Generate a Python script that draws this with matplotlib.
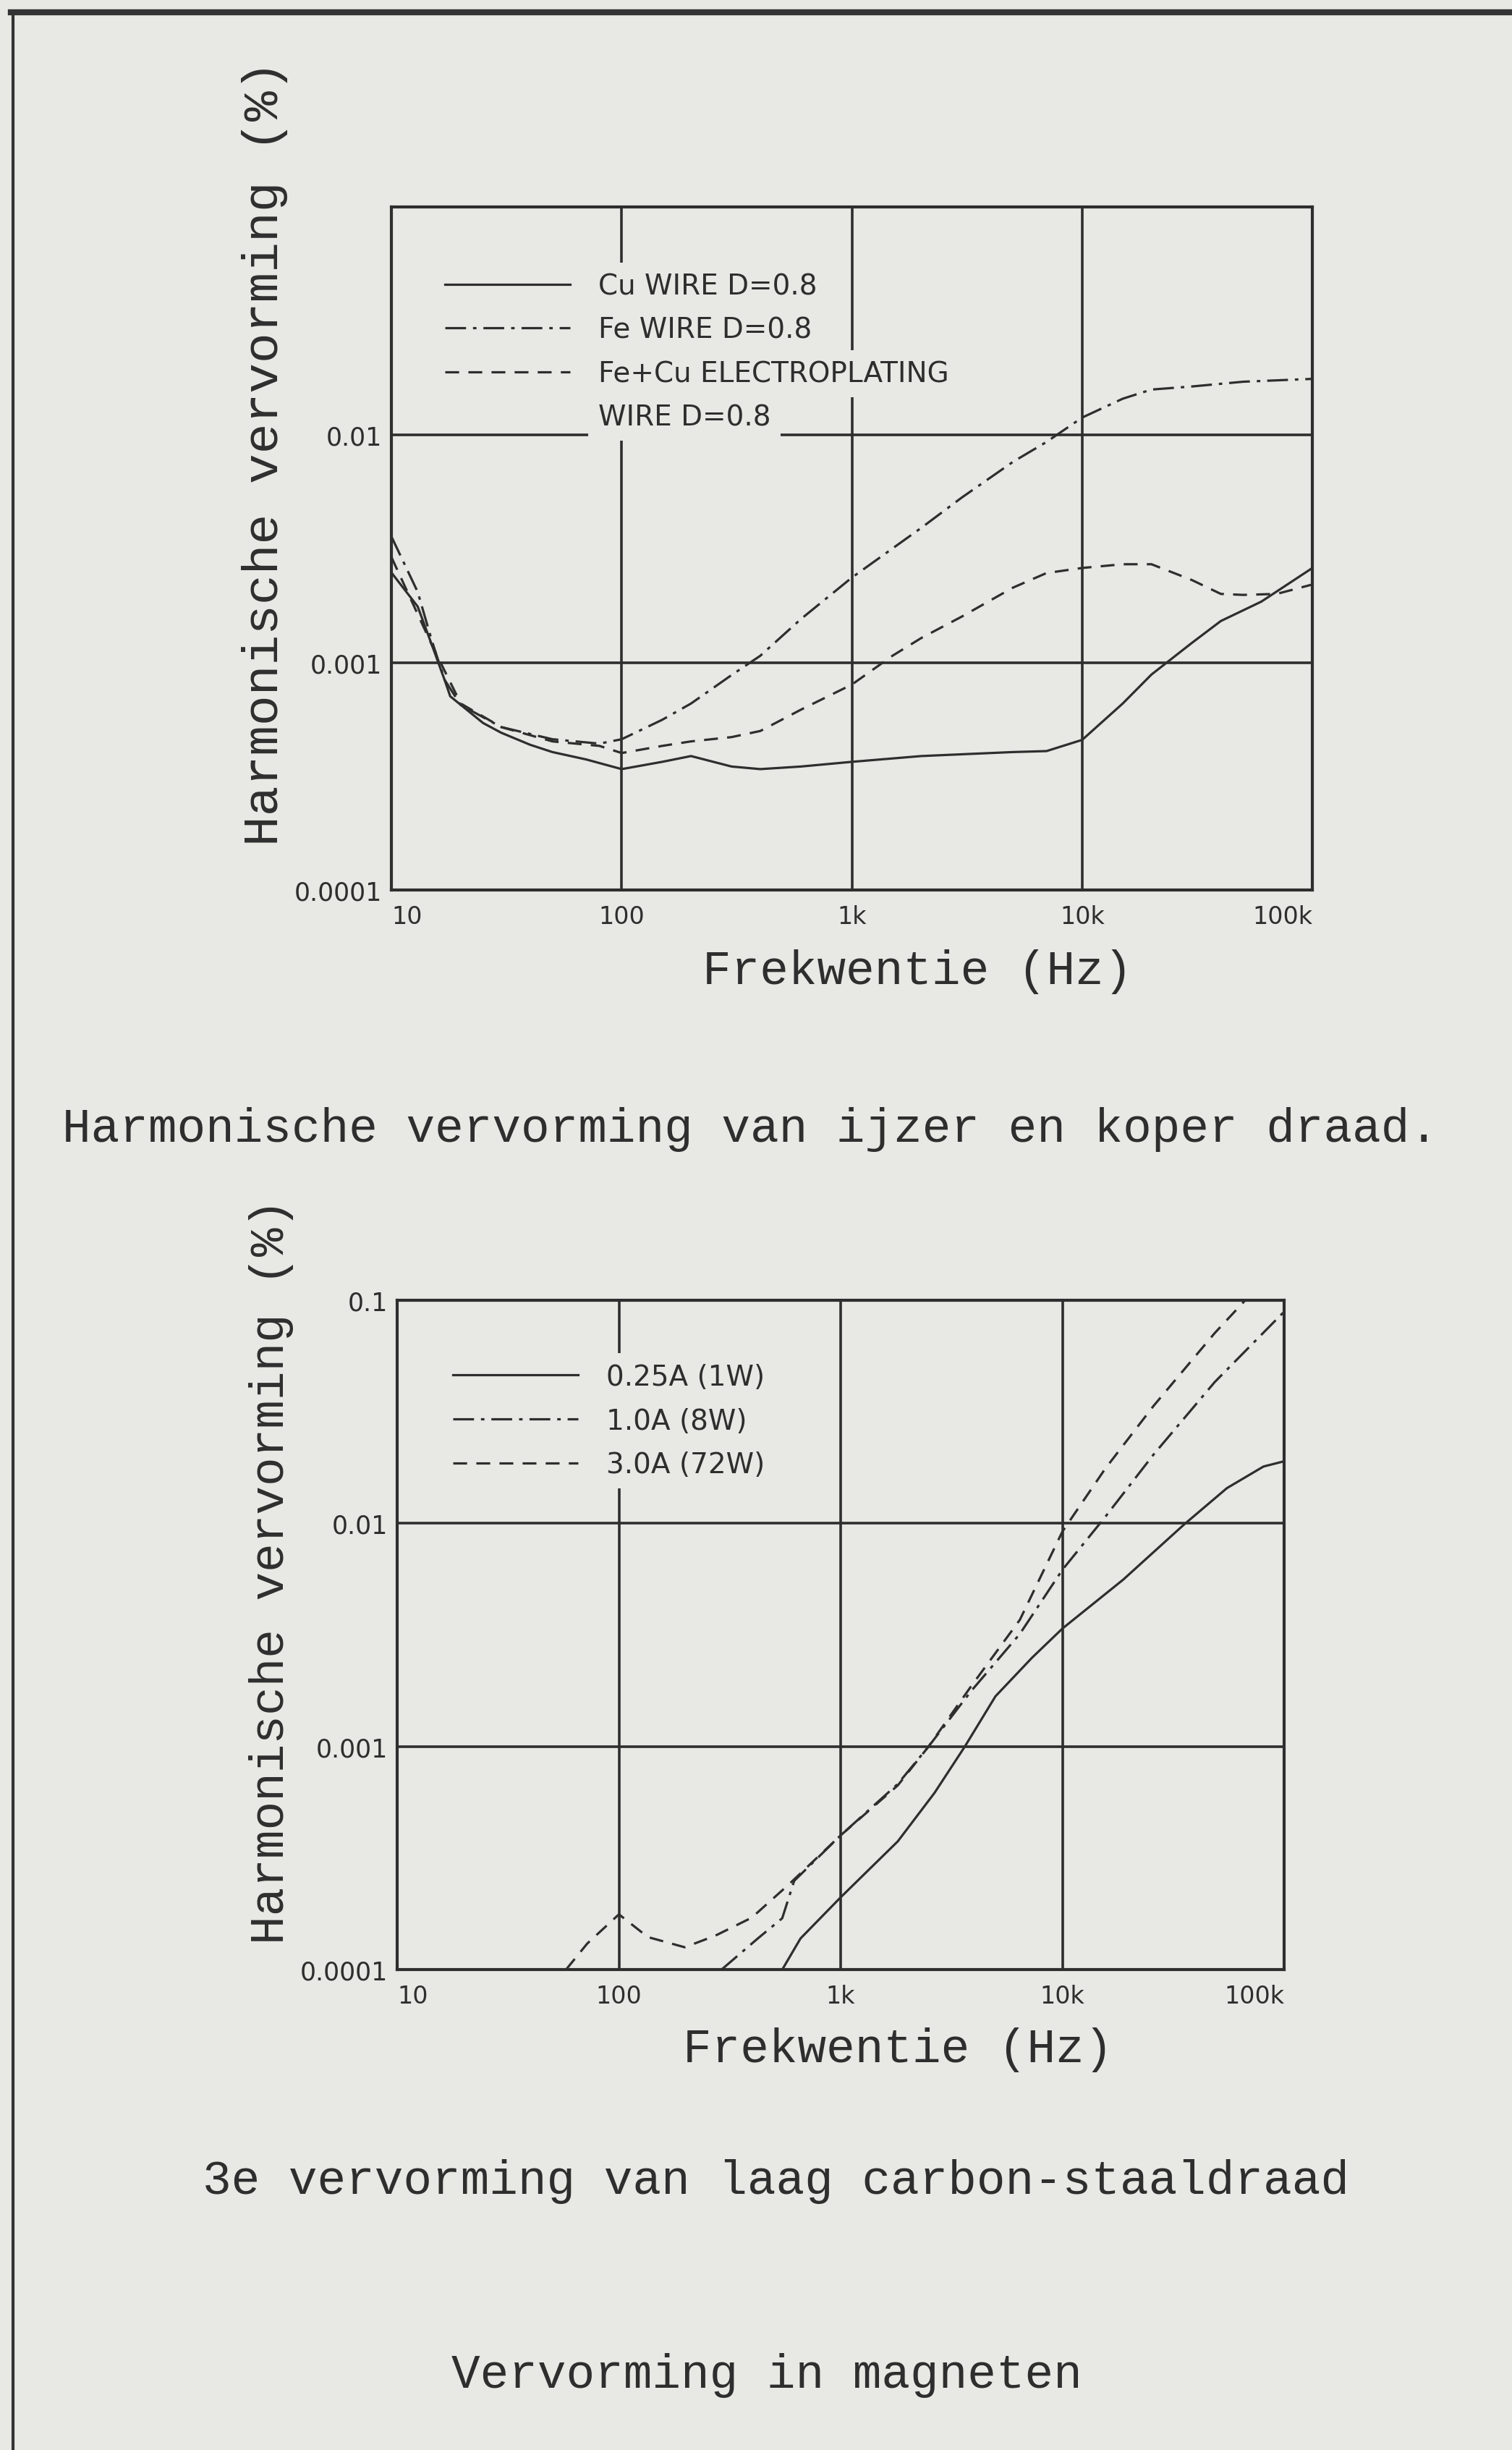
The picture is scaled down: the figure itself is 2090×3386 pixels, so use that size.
import matplotlib
matplotlib.use("Agg")
import matplotlib.pyplot as plt
from matplotlib.lines import Line2D
from matplotlib.ticker import NullLocator

# ---------------- data ----------------
x_ticks = [10, 100, 1000, 10000, 100000]
x_tick_labels = ["10", "100", "1k", "10k", "100k"]
y_ticks = [0.0001, 0.001, 0.01, 0.1]
y_labels_top = ["0.0001", "0.001", "0.01", ""]
y_labels_bot = ["0.0001", "0.001", "0.01", "0.1"]

# top chart
cu_f = [10, 13, 15, 17, 18, 25, 30, 40, 50, 70, 100, 150, 200, 300, 400, 600,
        1000, 2000, 5000, 7000, 10000, 15000, 20000, 30000, 40000, 60000, 100000]
cu_v = [0.00248, 0.00176, 0.00119, 0.00084, 0.00071, 0.000542, 0.000491, 0.000435,
        0.000404, 0.000375, 0.00034, 0.000366, 0.000388, 0.000349, 0.00034, 0.000349,
        0.000366, 0.000388, 0.000404, 0.000408, 0.000457, 0.00066, 0.000885, 0.00122,
        0.00152, 0.00185, 0.0026]
fe_f = [10, 13, 15, 17, 20, 30, 50, 80, 100, 150, 200, 300, 400, 600, 1000, 2000,
        3000, 5000, 7000, 10000, 15000, 20000, 30000, 50000, 100000]
fe_v = [0.00357, 0.00204, 0.00124, 0.00084, 0.00065, 0.00052, 0.00046, 0.00044,
        0.00046, 0.00056, 0.00066, 0.00088, 0.00107, 0.00155, 0.00236, 0.0039,
        0.0053, 0.0076, 0.0093, 0.0119, 0.0144, 0.0158, 0.0163, 0.0171, 0.0176]
fc_f = [10, 15, 20, 30, 50, 80, 100, 150, 200, 300, 400, 600, 1000, 1500, 2000,
        3000, 5000, 7000, 10000, 15000, 20000, 30000, 40000, 50000, 70000, 100000]
fc_v = [0.0029, 0.00119, 0.00066, 0.00052, 0.00045, 0.00043, 0.0004, 0.00043,
        0.00045, 0.00047, 0.0005, 0.00062, 0.0008, 0.00107, 0.00128, 0.00159,
        0.00213, 0.00247, 0.0026, 0.0027, 0.0027, 0.0023, 0.0020, 0.00198, 0.0020,
        0.0022]
top_labels = ["Cu WIRE D=0.8", "Fe WIRE D=0.8", "Fe+Cu ELECTROPLATING", "WIRE D=0.8"]

# bottom chart
w1_f = [545, 659, 1000, 1810, 2650, 3630, 4990, 7290, 10000, 18800, 35400, 55200,
        80700, 100000]
w1_v = [0.0001, 0.000138, 0.000211, 0.000376, 0.00062, 0.001, 0.00168, 0.0025,
        0.00338, 0.0056, 0.0099, 0.0144, 0.018, 0.019]
w8_f = [290, 423, 545, 617, 1000, 1810, 2490, 3870, 6430, 10000, 15600, 25800,
        48600, 100000]
w8_v = [0.0001, 0.000138, 0.00017, 0.00025, 0.0004, 0.00068, 0.001, 0.00177,
        0.0032, 0.0062, 0.0107, 0.0204, 0.043, 0.089]
w72_f = [57.7, 72, 100, 135, 198, 272, 397, 581, 1000, 1810, 2490, 3870, 6430,
         10000, 15600, 25800, 48600, 66700]
w72_v = [0.0001, 0.000131, 0.000177, 0.00014, 0.000126, 0.000142, 0.000171,
         0.00024, 0.0004, 0.00067, 0.001, 0.00186, 0.0037, 0.0092, 0.0176, 0.0337,
         0.0713, 0.1]
bot_labels = ["0.25A (1W)", "1.0A (8W)", "3.0A (72W)"]

# ---------------- style ----------------
BG = "#e8e8e4"
INK = "#2e2e2e"
MONO = ["Liberation Mono", "DejaVu Sans Mono"]
SANS = ["DejaVu Sans"]
DASHDOT = (0, (9, 3, 1.5, 3))
DASHED = (0, (6, 4))
CURVE_LW = 2.3
GRID_LW = 2.6
LEG_FS = 28

fig = plt.figure(figsize=(20.9, 33.87), dpi=100, facecolor=BG)


def style_axes(ax, ylabels):
    ax.set_facecolor(BG)
    ax.set_xscale("log")
    ax.set_yscale("log")
    ax.set_xlim(10, 100000)
    ax.set_ylim(0.0001, 0.1)
    ax.set_xticks(x_ticks)
    ax.set_xticklabels(x_tick_labels, family=SANS, fontsize=24, color=INK)
    ax.set_yticks(y_ticks)
    ax.set_yticklabels(ylabels, family=SANS, fontsize=25, color=INK)
    ax.xaxis.set_minor_locator(NullLocator())
    ax.yaxis.set_minor_locator(NullLocator())
    ax.tick_params(axis="x", length=0, pad=14)
    ax.tick_params(axis="y", length=0, pad=9)
    xt = ax.get_xticklabels()
    xt[0].set_horizontalalignment("left")
    xt[-1].set_horizontalalignment("right")
    ax.grid(True, which="major", color=INK, linewidth=GRID_LW, zorder=1)
    ax.set_axisbelow(True)
    for s in ax.spines.values():
        s.set_color(INK)
        s.set_linewidth(3.0)


def make_legend(ax, handles, labels, anchor):
    leg = ax.legend(handles, labels, loc="upper left", bbox_to_anchor=anchor,
                    fontsize=LEG_FS, handlelength=4.45, handletextpad=1.0,
                    labelspacing=0.58, borderpad=0, borderaxespad=0,
                    frameon=False)
    leg.set_zorder(5)
    for t in leg.get_texts():
        t.set_color(INK)
        t.set_family(SANS)
        t.set_bbox(dict(boxstyle="square,pad=0.35", facecolor=BG, edgecolor="none"))
    return leg


# ---------------- top chart ----------------
ax1 = fig.add_axes([0.2589, 0.6365, 0.6091, 0.2787])
style_axes(ax1, y_labels_top)
l_cu, = ax1.plot(cu_f, cu_v, color=INK, lw=CURVE_LW, ls="-", zorder=3)
l_fe, = ax1.plot(fe_f, fe_v, color=INK, lw=CURVE_LW, ls=DASHDOT, zorder=3)
l_fc, = ax1.plot(fc_f, fc_v, color=INK, lw=CURVE_LW, ls=DASHED, zorder=3)
blank = Line2D([], [], linestyle="none")
make_legend(ax1, [l_cu, l_fe, l_fc, blank], top_labels, (0.0581, 0.9047))

# ---------------- bottom chart ----------------
ax2 = fig.add_axes([0.2627, 0.1960, 0.5866, 0.2731])
style_axes(ax2, y_labels_bot)
l_1, = ax2.plot(w1_f, w1_v, color=INK, lw=CURVE_LW, ls="-", zorder=3)
l_8, = ax2.plot(w8_f, w8_v, color=INK, lw=CURVE_LW, ls=DASHDOT, zorder=3)
l_72, = ax2.plot(w72_f, w72_v, color=INK, lw=CURVE_LW, ls=DASHED, zorder=3)
make_legend(ax2, [l_1, l_8, l_72], bot_labels, (0.0628, 0.906))

# ---------------- texts ----------------
TXT = dict(family=MONO, color=INK)
fig.text(0.1750, 0.8151, "Harmonische vervorming (%)", rotation=90,
         ha="center", va="center", fontsize=50, **TXT)
fig.text(0.6067, 0.5985, "Frekwentie (Hz)", ha="center", va="baseline",
         fontsize=47.5, **TXT)
fig.text(0.4960, 0.5341, "Harmonische vervorming van ijzer en koper draad.",
         ha="center", va="baseline", fontsize=47.5, **TXT)

fig.text(0.1794, 0.3587, "Harmonische vervorming (%)", rotation=90,
         ha="center", va="center", fontsize=47.5, **TXT)
fig.text(0.5940, 0.1585, "Frekwentie (Hz)", ha="center", va="baseline",
         fontsize=47.5, **TXT)
fig.text(0.5130, 0.1048, "3e vervorming van laag carbon-staaldraad",
         ha="center", va="baseline", fontsize=47.5, **TXT)
fig.text(0.5070, 0.0257, "Vervorming in magneten", ha="center", va="baseline",
         fontsize=47.5, **TXT)

# page border (scanned page frame)
fig.add_artist(Line2D([0.007, 1.0], [0.9947, 0.9947], transform=fig.transFigure,
                      color="#333333", lw=6))
fig.add_artist(Line2D([0.0086, 0.0086], [0.0, 0.9947], transform=fig.transFigure,
                      color="#333333", lw=3))

fig.savefig("out.png", dpi=100, facecolor=BG)
